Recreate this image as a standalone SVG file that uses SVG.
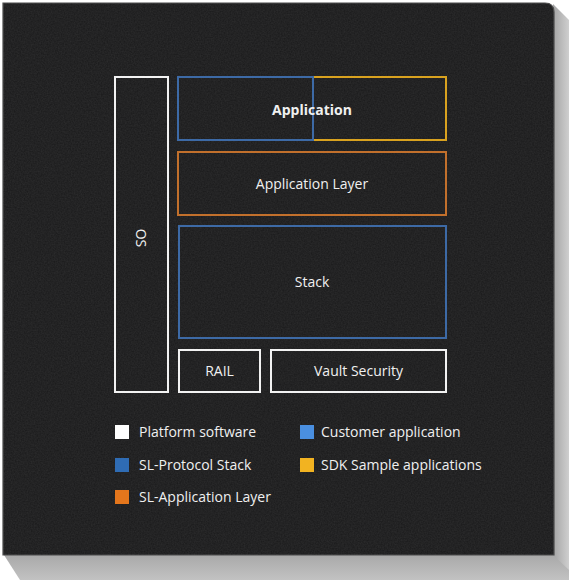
<svg xmlns="http://www.w3.org/2000/svg" width="573" height="584" viewBox="0 0 573 584">
  <defs>
    <linearGradient id="shR" x1="0" y1="0" x2="1" y2="0">
      <stop offset="0" stop-color="#a4a4a4"/>
      <stop offset="1" stop-color="#cfcfcf"/>
    </linearGradient>
    <linearGradient id="shB" x1="0" y1="0" x2="0" y2="1">
      <stop offset="0" stop-color="#a9a9a9"/>
      <stop offset="1" stop-color="#c2c2c2"/>
    </linearGradient>
    <filter id="noise" x="0" y="0" width="100%" height="100%">
      <feTurbulence type="fractalNoise" baseFrequency="0.7" numOctaves="2" seed="3" result="n"/>
      <feColorMatrix in="n" type="matrix" values="0 0 0 0 0.25  0 0 0 0 0.25  0 0 0 0 0.25  0 0 0 0.18 0"/>
      <feComposite in2="SourceGraphic" operator="in"/>
    </filter>
  </defs>
  <style>
    .box { fill: none; stroke-width: 2; }
    .w { stroke: #f2f2f2; }
    .blue { stroke: #3d6aa6; }
    .yel { stroke: #d9a21f; }
    .org { stroke: #c2702c; }
    .lbl { font-family: "Open Sans", "Noto Sans", sans-serif; font-size: 14px; fill: #f0f0f0; text-anchor: middle; }
    .leg { font-family: "Open Sans", "Noto Sans", sans-serif; font-size: 14px; fill: #f0f0f0; }
  </style>
  <rect width="573" height="584" fill="#ffffff"/>
  <!-- shadow -->
  <polygon points="553,4 569,20 569,580 553,580" fill="url(#shR)"/>
  <polygon points="4,555 20,580 569,580 569,570 553,555" fill="url(#shB)"/>
  <!-- board -->
  <path d="M3,3 H545 Q554,3 554,12 V555 H3 Z" fill="#19191a" stroke="#4a4a4a" stroke-width="1.2"/>
  <path d="M3,3 H545 Q554,3 554,12 V555 H3 Z" fill="#000" filter="url(#noise)"/>

  <g id="os">
    <rect class="box w" x="115" y="77" width="53" height="315"/>
    <text class="lbl" transform="translate(141,238) rotate(90)" dominant-baseline="central">OS</text>
  </g>
  <g id="application">
    <rect class="box yel" x="313" y="77" width="133" height="63"/>
    <rect class="box blue" x="178" y="77" width="135" height="63"/>
    <text class="lbl" x="312" y="115" font-weight="bold">Application</text>
  </g>
  <g id="application-layer">
    <rect class="box org" x="178" y="152" width="268" height="63"/>
    <text class="lbl" x="312" y="189">Application Layer</text>
  </g>
  <g id="stack">
    <rect class="box blue" x="179" y="226" width="267" height="112"/>
    <text class="lbl" x="312" y="287">Stack</text>
  </g>
  <g id="rail">
    <rect class="box w" x="179" y="350" width="81" height="42"/>
    <text class="lbl" x="219.5" y="376">RAIL</text>
  </g>
  <g id="vault-security">
    <rect class="box w" x="271" y="350" width="175" height="42"/>
    <text class="lbl" x="358.5" y="376">Vault Security</text>
  </g>
  <g id="connectors"></g>
  <g id="legend">
    <rect x="115" y="425" width="14" height="14" fill="#ffffff"/>
    <text class="leg" x="139" y="437">Platform software</text>
    <rect x="300" y="425" width="14" height="14" fill="#4a8fe0"/>
    <text class="leg" x="321" y="437">Customer application</text>
    <rect x="115" y="458" width="14" height="14" fill="#2f6cb4"/>
    <text class="leg" x="139" y="470">SL-Protocol Stack</text>
    <rect x="300" y="458" width="14" height="14" fill="#f2b321"/>
    <text class="leg" x="321" y="470">SDK Sample applications</text>
    <rect x="115" y="490" width="14" height="14" fill="#e4761c"/>
    <text class="leg" x="139" y="502">SL-Application Layer</text>
  </g>
</svg>
